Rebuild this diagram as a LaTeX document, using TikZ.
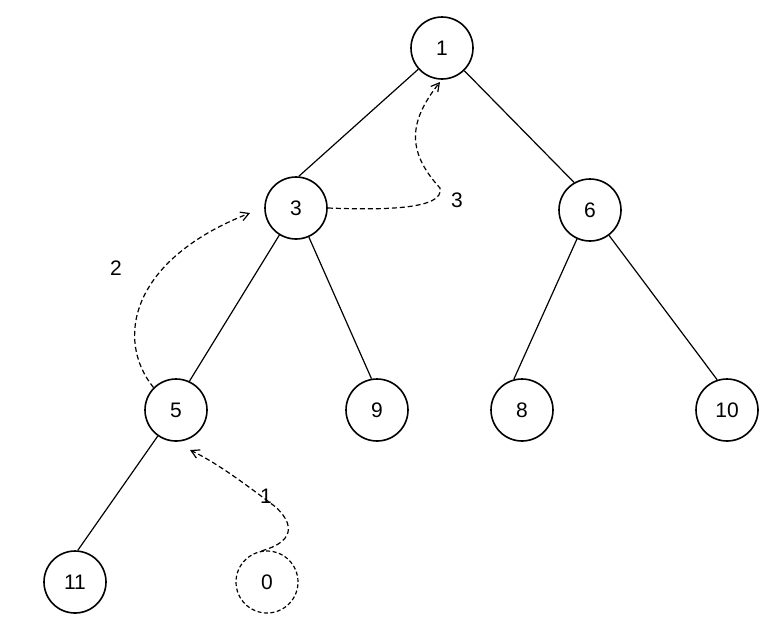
\documentclass[tikz,border=0pt]{standalone}
\usepackage{fontspec}
\setmainfont{Liberation Sans}
\usetikzlibrary{arrows.meta}
\begin{document}
\begin{tikzpicture}[x=1pt,y=-1pt,
  tnode/.style={circle,draw=black,line width=1.6pt,minimum size=62pt,inner sep=0pt,font=\fontsize{21}{21}\selectfont},
  tnodedash/.style={tnode,dash pattern=on 4pt off 2.5pt,line width=1.2pt},
  edge/.style={draw=black,line width=1.2pt},
  move/.style={draw=black,dash pattern=on 5pt off 3pt,line width=1.2pt,-{Straight Barb[length=8pt,width=9pt]}},
  lbl/.style={font=\fontsize{21}{21}\selectfont}]
\useasboundingbox (0,0) rectangle (783,630);
\node[tnode] (n1) at (442,48) {1};
\node[tnode] (n3) at (296,208) {3};
\node[tnode] (n6) at (590,210) {6};
\node[tnode] (n5) at (176,410) {5};
\node[tnode] (n9) at (377,410) {9};
\node[tnode] (n8) at (522,410) {8};
\node[tnode] (n10) at (727,410) {10};
\node[tnode] (n11) at (75,582) {11};
\node[tnodedash] (n0) at (267,582) {0};
\draw[edge] (n1) -- (n3.85);
\draw[edge] (n1) -- (n6.120);
\draw[edge] (n3) -- (n5.65);
\draw[edge] (n3) -- (n9.100);
\draw[edge] (n6) -- (n8.105);
\draw[edge] (n6) -- (n10.108);
\draw[edge] (n5) -- (n11.85);
\node[lbl] (l1) at (266,496) {1};
\node[lbl] (l2) at (116,268) {2};
\node[lbl] (l3) at (457,200) {3};
\draw[move] (n0.100) .. controls (300,540) and (290,520) .. (l1.south east) .. controls (240,480) and (215,462) .. (190,450);
\draw[move] (n5.135) .. controls (115,340) and (130,260) .. (250,213);
\draw[move] (n3.east) .. controls (380,210) and (445,210) .. (440,188) .. controls (405,150) and (410,120) .. (440,82);
\end{tikzpicture}
\end{document}
